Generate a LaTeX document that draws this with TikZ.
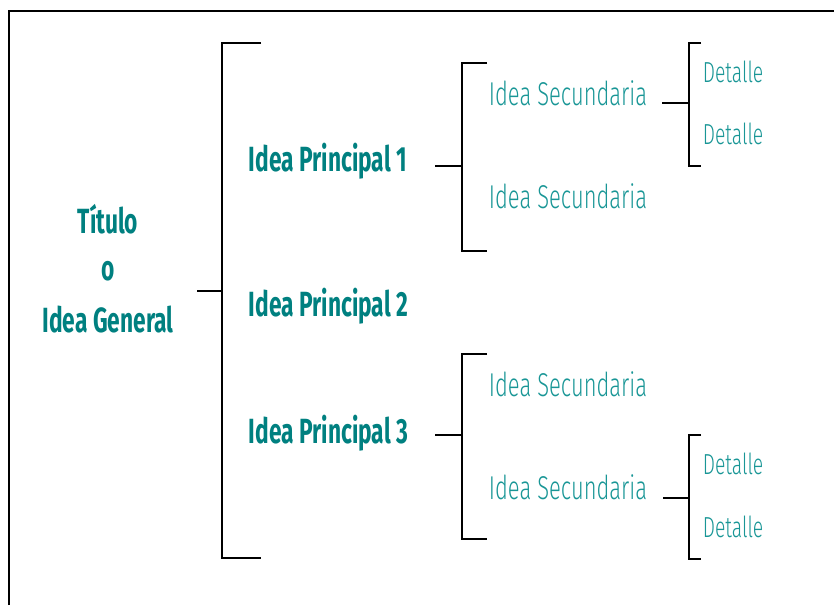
\documentclass[tikz,border=0pt]{standalone}
\usepackage{fontspec}
\setmainfont{Fira Sans}
\newfontfamily\headfont{Fira Sans}[FakeStretch=0.65]
\newfontfamily\thinfont{Fira Sans Light}[FakeStretch=0.665]
\definecolor{mainteal}{RGB}{0,128,128}
\definecolor{subteal}{RGB}{25,150,150}

\begin{document}
\begin{tikzpicture}[x=1pt, y=-1pt, line width=1.8pt,
    main/.style={anchor=base, inner sep=0pt, text=mainteal, font=\headfont\bfseries\fontsize{35}{40}\selectfont},
    sec/.style={anchor=base west, inner sep=0pt, text=subteal, font=\thinfont\fontsize{33}{38}\selectfont},
    det/.style={anchor=base west, inner sep=0pt, text=subteal, font=\thinfont\fontsize{29}{34}\selectfont}]
        \useasboundingbox (0,0) rectangle (834,605);
        % frame
        \draw (9,605) -- (9,11) -- (834,11);

        % Node positions
        \node[main] (tit) at (108,233) {Título};
        \node[main] (o) at (108,280) {o};
        \node[main] (gen) at (108,332) {Idea General};

        \node[main, anchor=base west] (p1) at (248,171) {Idea Principal 1};
        \node[main, anchor=base west] (p2) at (248,316) {Idea Principal 2};
        \node[main, anchor=base west] (p3) at (248,443) {Idea Principal 3};

        \node[sec] (s11) at (488,105) {Idea Secundaria};
        \node[sec] (s12) at (488,208) {Idea Secundaria};
        \node[sec] (s31) at (488,396) {Idea Secundaria};
        \node[sec] (s32) at (488,499) {Idea Secundaria};

        \node[det] (d111) at (702,82) {Detalle};
        \node[det] (d112) at (702,144) {Detalle};
        \node[det] (d321) at (702,474) {Detalle};
        \node[det] (d322) at (702,537) {Detalle};

        % bracket ends
        \coordinate (m0) at (197,291);
        \coordinate (m1) at (222,291);
        \coordinate (mt) at (261,43);
        \coordinate (mb) at (261,558);

        \coordinate (a0) at (435,166);
        \coordinate (a1) at (462,166);
        \coordinate (at) at (487,63);
        \coordinate (ab) at (487,251);

        \coordinate (b0) at (662,103);
        \coordinate (b1) at (689,103);
        \coordinate (bt) at (701,43);
        \coordinate (bb) at (701,166);

        \coordinate (c0) at (435,435);
        \coordinate (c1) at (462,435);
        \coordinate (ct) at (487,354);
        \coordinate (cb) at (487,539);

        \coordinate (e0) at (663,498);
        \coordinate (e1) at (689,498);
        \coordinate (et) at (701,435);
        \coordinate (eb) at (701,559);

        \draw (m0) -- (m1);
        \draw (mt) -- (m1 |- mt) -- (m1 |- mb) -- (mb);
        \draw (a0) -- (a1);
        \draw (at) -- (a1 |- at) -- (a1 |- ab) -- (ab);
        \draw (b0) -- (b1);
        \draw (bt) -- (b1 |- bt) -- (b1 |- bb) -- (bb);
        \draw (c0) -- (c1);
        \draw (ct) -- (c1 |- ct) -- (c1 |- cb) -- (cb);
        \draw (e0) -- (e1);
        \draw (et) -- (e1 |- et) -- (e1 |- eb) -- (eb);
\end{tikzpicture}
\end{document}
